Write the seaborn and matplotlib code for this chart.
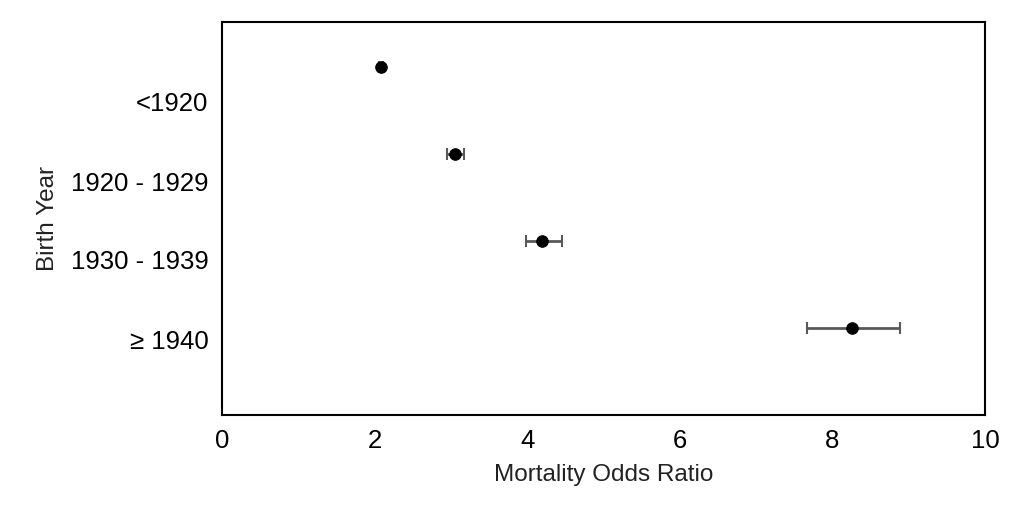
import matplotlib
matplotlib.use("Agg")
import matplotlib.pyplot as plt
import seaborn as sns
import pandas as pd
import numpy as np

categories = ["<1920", "1920 - 1929", "1930 - 1939", "≥ 1940"]
odds = [2.08, 3.05, 4.19, 8.26]
low = [2.05, 2.95, 3.98, 7.67]
high = [2.11, 3.17, 4.46, 8.89]
point_pos = [4, 3, 2, 1]
label_pos = [3.6, 2.69, 1.79, 0.87]

sns.set_style("white")
plt.rcParams['font.family'] = ['Liberation Sans', 'DejaVu Sans']

df = pd.DataFrame({"cat": categories, "odds": odds, "y": point_pos})
fig, ax = plt.subplots(figsize=(10.24, 5.25), dpi=100)
fig.subplots_adjust(left=0.217, right=0.962, top=0.958, bottom=0.21)

err = [np.array(odds) - np.array(low), np.array(high) - np.array(odds)]
ax.errorbar(odds, point_pos, xerr=err, fmt="none", ecolor="#595959", elinewidth=2, capsize=4, capthick=1.5, zorder=2)
sns.scatterplot(data=df, x="odds", y="y", color="black", s=70, edgecolor="black", ax=ax, zorder=3)

ax.set_xlim(0, 10)
ax.set_ylim(0, 4.52)
ax.set_xticks([0, 2, 4, 6, 8, 10])
ax.set_yticks(label_pos)
ax.set_yticklabels(categories)
ax.tick_params(axis="both", length=0, labelsize=18.5, colors="black", pad=10)
ax.set_xlabel("Mortality Odds Ratio", fontsize=17.5, labelpad=8, color="#222222")
ax.set_ylabel("Birth Year", fontsize=17.5, color="#222222", labelpad=8)
for s in ax.spines.values():
    s.set_color("black")
    s.set_linewidth(1.5)
fig.savefig("out.png", dpi=100)
